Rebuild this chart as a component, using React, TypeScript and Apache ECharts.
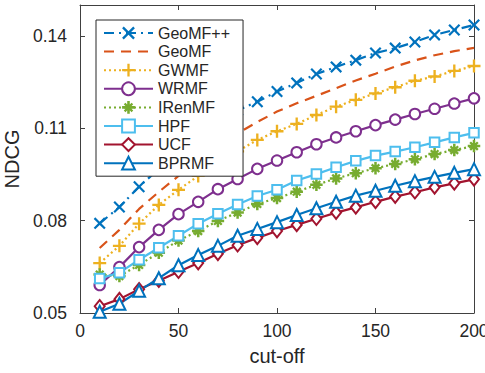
import React, { useEffect, useRef } from 'react';
import * as echarts from 'echarts';

const cutoffs = [10, 20, 30, 40, 50, 60, 70, 80, 90, 100, 110, 120, 130, 140, 150, 160, 170, 180, 190, 200];

const geoMFpp = [0.0791, 0.0844, 0.0910, 0.0968, 0.1021, 0.1071, 0.1116, 0.1158, 0.1186, 0.1219, 0.1247, 0.1276, 0.1299, 0.1321, 0.1344, 0.1360, 0.1380, 0.1403, 0.1419, 0.1435];
const geoMF = [0.0711, 0.0770, 0.0838, 0.0893, 0.0945, 0.0995, 0.1040, 0.1083, 0.1120, 0.1154, 0.1181, 0.1205, 0.1230, 0.1255, 0.1277, 0.1300, 0.1320, 0.1337, 0.1350, 0.1361];
const gwmf = [0.0662, 0.0718, 0.0790, 0.0851, 0.0900, 0.0945, 0.0987, 0.1025, 0.1062, 0.1090, 0.1114, 0.1143, 0.1170, 0.1192, 0.1213, 0.1233, 0.1254, 0.1268, 0.1286, 0.1302];
const wrmf = [0.0591, 0.0649, 0.0714, 0.0770, 0.0821, 0.0861, 0.0902, 0.0935, 0.0968, 0.0995, 0.1022, 0.1048, 0.1070, 0.1090, 0.1110, 0.1128, 0.1146, 0.1163, 0.1180, 0.1197];
const irenmf = [0.0625, 0.0620, 0.0656, 0.0696, 0.0735, 0.0766, 0.0799, 0.0826, 0.0854, 0.0873, 0.0894, 0.0916, 0.0937, 0.0954, 0.0970, 0.0984, 0.0999, 0.1016, 0.1029, 0.1042];
const hpf = [0.0612, 0.0631, 0.0673, 0.0712, 0.0751, 0.0790, 0.0822, 0.0852, 0.0880, 0.0900, 0.0930, 0.0951, 0.0973, 0.0994, 0.1011, 0.1024, 0.1038, 0.1054, 0.1070, 0.1085];
const ucf = [0.0522, 0.0545, 0.0577, 0.0605, 0.0634, 0.0662, 0.0692, 0.0720, 0.0744, 0.0766, 0.0786, 0.0806, 0.0826, 0.0843, 0.0861, 0.0878, 0.0892, 0.0908, 0.0921, 0.0934];
const bprmf = [0.0504, 0.0530, 0.0572, 0.0613, 0.0655, 0.0688, 0.0718, 0.0751, 0.0773, 0.0795, 0.0818, 0.0840, 0.0861, 0.0881, 0.0897, 0.0913, 0.0928, 0.0942, 0.0955, 0.0967];

const seriesNames = ['GeoMF++', 'GeoMF', 'GWMF', 'WRMF', 'IRenMF', 'HPF', 'UCF', 'BPRMF'];
const yTicks = [0.05, 0.08, 0.11, 0.14];
const xTicks = [0, 50, 100, 150, 200];

const X_PATH = 'path://M0,13L13,0L50,37L87,0L100,13L63,50L100,87L87,100L50,63L13,100L0,87L37,50Z';
const PLUS_PATH = 'path://M41,0H59V41H100V59H59V100H41V59H0V41H41Z';
const STAR_PATH =
  'path://M40,0H60V40H100V60H60V100H40V60H0V40H40Z M13,26L26,13L50,37L74,13L87,26L63,50L87,74L74,87L50,63L26,87L13,74L37,50Z';

const FONT = 'Liberation Sans, Arial, Helvetica, sans-serif';
const AXIS = '#404040';
const TEXT = '#262626';

export default function App() {
  const ref = useRef<HTMLDivElement>(null);
  useEffect(() => {
    const chart = echarts.init(ref.current!, null, { renderer: 'svg' });
    const mk = (
      name: string,
      vals: number[],
      color: string,
      dash: any,
      symbol: string,
      size: any,
      empty: boolean,
      showSymbol = true
    ) => ({
      name,
      type: 'line',
      data: cutoffs.map((x, i) => [x, vals[i]]),
      color,
      symbol,
      symbolSize: size,
      showSymbol,
      clip: true,
      lineStyle: { color, width: 2.2, type: dash },
      itemStyle: { color, borderColor: color, borderWidth: empty ? 2.2 : 0 },
      emphasis: { disabled: true },
    });
    const series = [
      mk('GeoMF++', geoMFpp, '#0072BD', [10, 5, 2, 5], X_PATH, 12, false),
      mk('GeoMF', geoMF, '#D95319', [10, 7], 'circle', 0, false, false),
      mk('GWMF', gwmf, '#EDB120', [2, 3], PLUS_PATH, 13, false),
      mk('WRMF', wrmf, '#7E2F8E', 'solid', 'emptyCircle', 10.5, true),
      mk('IRenMF', irenmf, '#77AC30', [2, 3], STAR_PATH, 12.5, false),
      mk('HPF', hpf, '#4DBEEE', 'solid', 'emptyRect', 9.5, true),
      mk('UCF', ucf, '#A2142F', 'solid', 'emptyDiamond', [10, 12.5], true),
      mk('BPRMF', bprmf, '#0072BD', 'solid', 'emptyTriangle', 12, true),
    ];
    const axisLine = { show: true, onZero: false, lineStyle: { color: AXIS, width: 1 } };
    const axisTick = { show: true, inside: true, length: 5, lineStyle: { color: AXIS, width: 1 } };
    const option: any = {
      animation: false,
      textStyle: { fontFamily: FONT },
      grid: { left: 80, right: 11, top: 5, bottom: 60, containLabel: false, outerBoundsMode: 'none' },
      legend: {
        orient: 'vertical',
        left: 96,
        top: 20,
        padding: [5, 13, 5, 7],
        itemWidth: 49,
        itemHeight: 16,
        itemGap: 2.6,
        backgroundColor: '#fff',
        borderColor: '#262626',
        borderWidth: 1,
        borderRadius: 0,
        selectedMode: false,
        textStyle: { fontSize: 16, color: TEXT, fontFamily: FONT, lineHeight: 16 },
        data: seriesNames.map((n) => (n === 'GeoMF' ? { name: n, itemStyle: { opacity: 0 } } : n)),
      },
      xAxis: [
        {
          type: 'value',
          min: 0,
          max: 200,
          interval: 50,
          position: 'bottom',
          axisLine,
          axisTick: { ...axisTick, customValues: xTicks },
          axisLabel: { customValues: xTicks, color: TEXT, fontSize: 17.5, margin: 9, fontFamily: FONT },
          splitLine: { show: false },
          name: 'cut-off',
          nameLocation: 'middle',
          nameGap: 33,
          nameTextStyle: { fontSize: 20, color: TEXT, fontFamily: FONT },
        },
        {
          type: 'value',
          min: 0,
          max: 200,
          interval: 50,
          position: 'top',
          axisLine,
          axisTick: { ...axisTick, customValues: xTicks },
          axisLabel: { show: false },
          splitLine: { show: false },
        },
      ],
      yAxis: [
        {
          type: 'value',
          min: 0.05,
          max: 0.15,
          position: 'left',
          axisLine,
          axisTick: { ...axisTick, customValues: yTicks },
          axisLabel: {
            customValues: yTicks,
            color: TEXT,
            fontSize: 17.5,
            margin: 13,
            fontFamily: FONT,
            formatter: (v: number) => v.toFixed(2),
          },
          splitLine: { show: false },
          name: 'NDCG',
          nameLocation: 'middle',
          nameGap: 55,
          nameRotate: 90,
          nameTextStyle: { fontSize: 20, color: TEXT, fontFamily: FONT },
        },
        {
          type: 'value',
          min: 0.05,
          max: 0.15,
          position: 'right',
          axisLine,
          axisTick: { ...axisTick, customValues: yTicks },
          axisLabel: { show: false },
          splitLine: { show: false },
        },
      ],
      series,
    };
    chart.setOption(option);
    return () => chart.dispose();
  }, []);
  return <div ref={ref} style={{ position: 'fixed', left: 0, top: 0, width: 485, height: 373, background: '#fff' }} />;
}
